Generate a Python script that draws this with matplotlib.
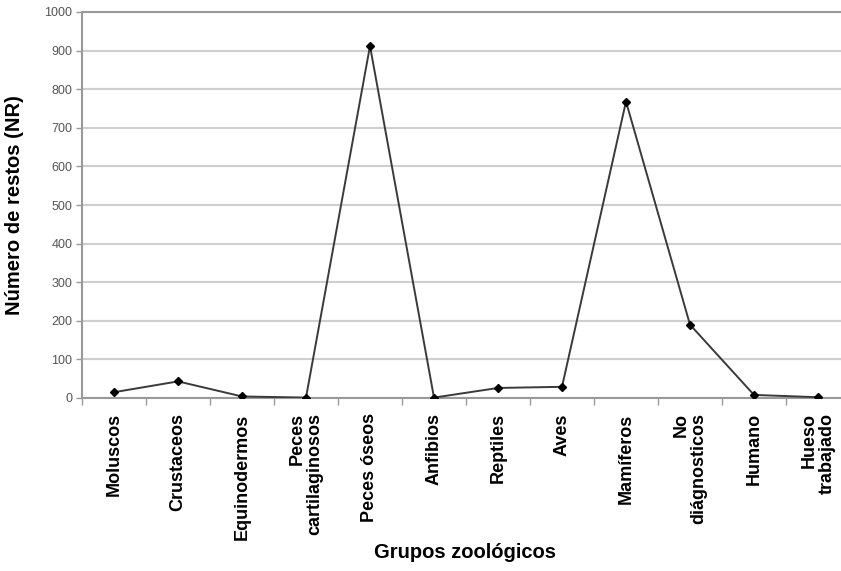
import numpy as np
import matplotlib.pyplot as plt
from matplotlib.ticker import MultipleLocator, FixedLocator

plt.rcParams['font.family'] = ['Liberation Sans', 'DejaVu Sans']

# Grupos zoologicos and number of remains (NR)
grupos = ["Moluscos", "Crustaceos", "Equinodermos", "Peces\ncartilaginosos",
          "Peces óseos", "Anfibios", "Reptiles", "Aves", "Mamíferos",
          "No\ndiágnosticos", "Humano", "Hueso\ntrabajado"]
restos = [15, 43, 4, 1, 912, 1, 26, 29, 768, 190, 8, 2]

W, H = 841, 571
fig = plt.figure(figsize=(W / 100, H / 100), dpi=100)
# axes runs past the right edge of the picture like the cropped original
ax = fig.add_axes([82 / W, (H - 398) / H, 768 / W, 386 / H])

x = np.arange(len(grupos))
ax.plot(x, restos, color='#3a3a3a', lw=1.4, marker='D', ms=4,
        mfc='black', mec='black', zorder=3)

ax.set_xlim(-0.5, len(grupos) - 0.5)
ax.set_ylim(0, 1000)
ax.yaxis.set_major_locator(MultipleLocator(100))
ax.grid(axis='y', color='#cfcfcf', lw=1.5)
ax.set_axisbelow(True)

ax.set_xticks(x)
ax.set_xticklabels(grupos, rotation=90, fontsize=13, fontweight='bold',
                   multialignment='right', linespacing=1.1)
ax.xaxis.set_minor_locator(FixedLocator(np.arange(-0.5, len(grupos), 1)))
ax.tick_params(axis='x', which='major', length=0, pad=11)
ax.tick_params(axis='x', which='minor', length=5, color='#999999', width=1)
ax.tick_params(axis='y', length=4, color='#999999', width=1,
               labelsize=9, labelcolor='#555555', pad=3)

for s in ['left', 'bottom', 'top', 'right']:
    ax.spines[s].set_color('#999999')
    ax.spines[s].set_linewidth(1.5)

ax.set_ylabel("Número de restos (NR)", fontsize=14.5, fontweight='bold')
ax.yaxis.set_label_coords(-(82 - 24) / 768, 0.5)
fig.text(465 / W, 1 - 553 / H, "Grupos zoológicos", fontsize=14.5,
         fontweight='bold', ha='center', va='center')

fig.savefig("out.png", dpi=100)
